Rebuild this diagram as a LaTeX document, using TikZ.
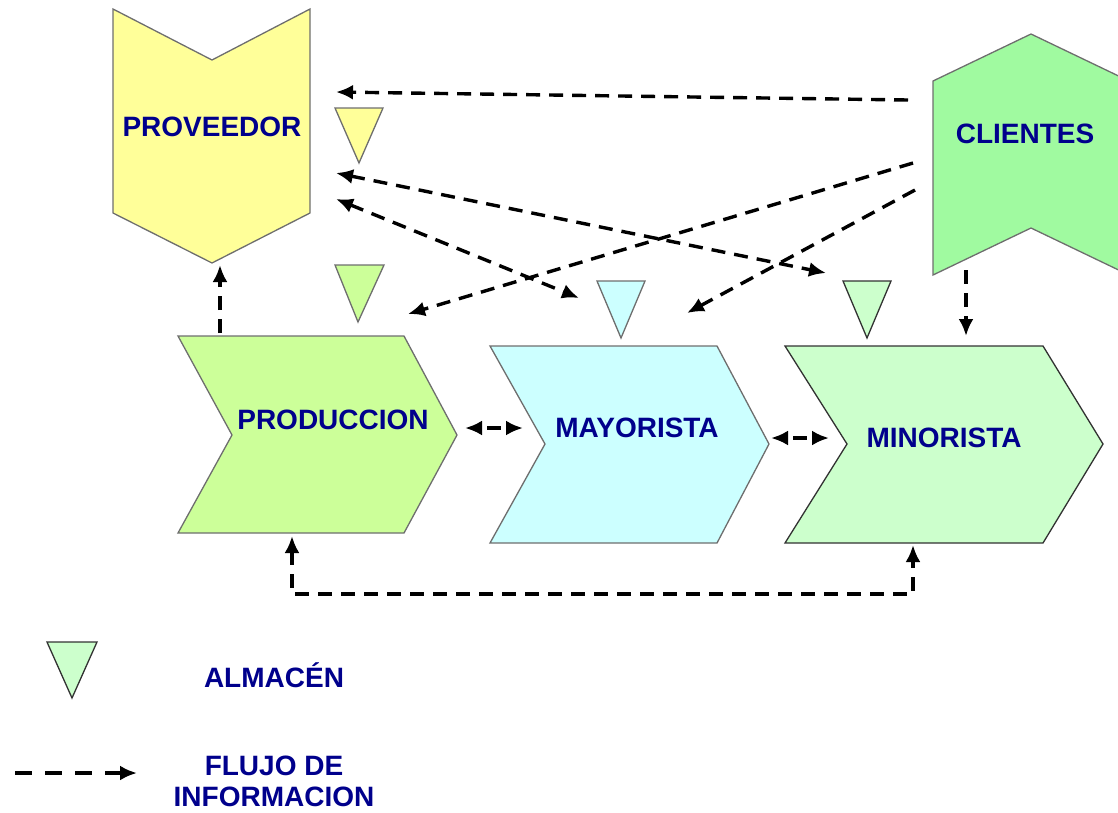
\documentclass[tikz,border=0pt]{standalone}
\usepackage{fontspec}
\setmainfont{Liberation Sans}
\usetikzlibrary{arrows.meta}
\definecolor{navytxt}{RGB}{0,0,140}
\definecolor{edgegray}{RGB}{110,110,110}
\definecolor{edgedark}{RGB}{50,50,50}
\definecolor{provfill}{RGB}{255,255,153}
\definecolor{prodfill}{RGB}{204,255,153}
\definecolor{mayfill}{RGB}{204,255,255}
\definecolor{minfill}{RGB}{204,255,204}
\definecolor{clifill}{RGB}{160,250,160}
\begin{document}
\begin{tikzpicture}[x=1pt,y=-1pt,
  lbl/.style={font=\fontsize{28}{31}\selectfont\bfseries, text=navytxt, inner sep=0pt, align=center},
  shapeline/.style={draw=edgegray, line width=1.3pt},
  darkline/.style={draw=edgedark, line width=1.3pt},
  info/.style={dash pattern=on 14pt off 9pt, line width=3.4pt, -{Latex[length=17pt,width=15pt]}},
  infotwo/.style={info, {Latex[length=17pt,width=15pt]}-{Latex[length=17pt,width=15pt]}},
  shortinfo/.style={infotwo, dash pattern=on 0pt off 7pt on 14pt off 20pt},
]
\useasboundingbox (0,0) rectangle (1118,812);

% shapes
\path[shapeline, fill=provfill] (113,9) -- (212,60) -- (310,9) -- (310,213) -- (212,263) -- (113,213) -- cycle;
\begin{scope}
\clip (0,0) rectangle (1118,812);
\path[shapeline, fill=clifill] (933,81) -- (1031,34) -- (1129,81) -- (1129,275) -- (1031,228) -- (933,275) -- cycle;
\end{scope}
\path[shapeline, fill=prodfill] (178,336) -- (404,336) -- (457,435) -- (404,533) -- (178,533) -- (232,435) -- cycle;
\path[shapeline, fill=mayfill] (490,346) -- (717,346) -- (769,444) -- (717,543) -- (490,543) -- (545,444) -- cycle;
\path[darkline, fill=minfill] (785,346) -- (1043,346) -- (1103,444) -- (1043,543) -- (785,543) -- (847,444) -- cycle;

% warehouses
\path[shapeline, fill=provfill] (335,108) -- (383,108) -- (359,163) -- cycle;
\path[shapeline, fill=prodfill] (335,265) -- (384,265) -- (358,322) -- cycle;
\path[shapeline, fill=mayfill] (597,281) -- (645,281) -- (621,338) -- cycle;
\path[darkline, fill=minfill] (843,281) -- (891,281) -- (867,338) -- cycle;
\path[darkline, fill=minfill] (47,642) -- (97,642) -- (72,698) -- cycle;

% labels
\node[lbl] (prov) at (212,127) {PROVEEDOR};
\node[lbl] (cli) at (1025,134) {CLIENTES};
\node[lbl] (prod) at (333,420) {PRODUCCION};
\node[lbl] (may) at (637,428) {MAYORISTA};
\node[lbl] (min) at (944,438) {MINORISTA};
\node[lbl] (alm) at (274,675) {ALMACÉN};
\node[lbl] (flujo) at (274,781) {FLUJO DE\\INFORMACION};

% connector end points
\coordinate (provA) at (336,92);
\coordinate (provB) at (336,173);
\coordinate (provC) at (336,199);
\coordinate (provBot) at (220,265);
\coordinate (cliA) at (908,100);
\coordinate (cliB) at (913,163);
\coordinate (cliC) at (915,190);
\coordinate (cliBot) at (966,270);
\coordinate (minT) at (826,273);
\coordinate (mayT) at (579,298);
\coordinate (prodT) at (408,314);
\coordinate (mayTB) at (687,313);
\coordinate (minTop) at (966,336);
\coordinate (prodTop) at (220,333);
\coordinate (prodR) at (465,428);
\coordinate (mayL) at (523,428);
\coordinate (mayR) at (771,438);
\coordinate (minL) at (829,438);
\coordinate (prodBot) at (292,536);
\coordinate (cornL) at (292,594);
\coordinate (cornR) at (913,594);
\coordinate (minBot) at (913,545);
\coordinate (legA) at (15,773);
\coordinate (legB) at (137,773);

% connectors
\draw[info] (cliA) -- (provA);
\draw[infotwo] (provB) -- (minT);
\draw[infotwo] (provC) -- (mayT);
\draw[info] (cliB) -- (prodT);
\draw[info] (cliC) -- (mayTB);
\draw[info] (cliBot) -- (minTop);
\draw[info] (prodTop) -- (provBot);
\draw[shortinfo] (prodR) -- (mayL);
\draw[shortinfo] (mayR) -- (minL);
\draw[infotwo] (prodBot) -- (cornL) -- (cornR) -- (minBot);
\draw[info, dash pattern=on 17pt off 13pt] (legA) -- (legB);
\end{tikzpicture}
\end{document}
